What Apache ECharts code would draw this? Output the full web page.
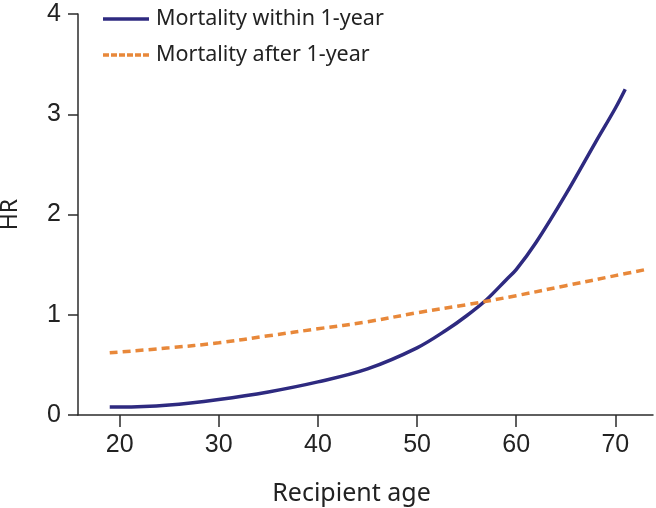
<!DOCTYPE html>
<html>
<head>
<meta charset="utf-8">
<script src="https://cdn.jsdelivr.net/npm/echarts@6/dist/echarts.min.js"></script>
<style>html,body{margin:0;padding:0;background:#fff}#c{width:656px;height:508px}</style>
</head>
<body>
<div id="c"></div>
<script>
var xTicks = [20, 30, 40, 50, 60, 70];
var yTicks = [0, 1, 2, 3, 4];
var withinAges = [19, 20, 25, 30, 35, 40, 45, 50, 53, 55, 57, 59, 60, 62, 65, 68, 70, 71];
var withinHR   = [0.08, 0.08, 0.10, 0.155, 0.23, 0.33, 0.46, 0.67, 0.85, 0.99, 1.15, 1.35, 1.45, 1.72, 2.2, 2.72, 3.06, 3.25];
var afterAges = [19, 25, 30, 35, 40, 45, 50, 55, 60, 65, 70, 73];
var afterHR   = [0.62, 0.67, 0.72, 0.79, 0.86, 0.93, 1.02, 1.10, 1.19, 1.29, 1.39, 1.45];

function pairs(a, b) { return a.map(function (v, i) { return [v, b[i]]; }); }

// legend icon shapes (46x24 box, bar centred vertically)
var solidIcon = 'path://M0,0M0,10.25h46v3.5h-46zM46,24';
var dashIcon = 'path://M0,0M0,10.25h6v3.5h-6zM8,10.25h6v3.5h-6zM16,10.25h6v3.5h-6zM24,10.25h6v3.5h-6zM32,10.25h6v3.5h-6zM40,10.25h6v3.5h-6zM46,24';

var chart = echarts.init(document.getElementById('c'), null, {renderer: 'canvas'});
var axisCol = '#2b2b2b';
chart.setOption({
  animation: false,
  backgroundColor: '#ffffff',
  grid: {left: 78, right: 3, top: 14, bottom: 93, containLabel: false, outerBoundsMode: 'none'},
  legend: {
    orient: 'vertical', left: 98, top: 2,
    itemWidth: 46, itemHeight: 24, itemGap: 12,
    textStyle: {fontFamily: 'Noto Sans', fontSize: 21.5, color: '#222', padding: [0, 0, 0, 2], lineHeight: 24},
    data: [
      {name: 'Mortality within 1-year', icon: solidIcon},
      {name: 'Mortality after 1-year', icon: dashIcon}
    ]
  },
  xAxis: {
    type: 'value', min: 15.8, max: 73.8,
    name: 'Recipient age', nameLocation: 'middle', nameGap: 66, nameMoveOverlap: false,
    nameTextStyle: {fontFamily: 'Noto Sans', fontSize: 25, color: '#222', padding: [0, 28, 0, 0]},
    axisLine: {show: true, onZero: false, lineStyle: {color: axisCol, width: 1.5}},
    axisTick: {show: true, length: 12, lineStyle: {color: axisCol, width: 1.5}, customValues: xTicks},
    axisLabel: {show: true, fontFamily: 'Liberation Sans', fontSize: 25, color: '#222', margin: 18, customValues: xTicks},
    splitLine: {show: false}
  },
  yAxis: {
    type: 'value', min: 0, max: 4, interval: 1,
    name: 'HR', nameLocation: 'middle', nameGap: 56, nameRotate: 90, nameMoveOverlap: false,
    nameTextStyle: {fontFamily: 'Noto Sans', fontSize: 23, color: '#222'},
    axisLine: {show: true, lineStyle: {color: axisCol, width: 1.5}},
    axisTick: {show: true, length: 10, lineStyle: {color: axisCol, width: 1.5}},
    axisLabel: {show: true, fontFamily: 'Liberation Sans', fontSize: 25, color: '#222', margin: 17},
    splitLine: {show: false}
  },
  series: [
    {
      name: 'Mortality within 1-year', type: 'line', smooth: 0.35, showSymbol: false, symbol: 'none',
      lineStyle: {color: '#2E2A80', width: 3.5},
      itemStyle: {color: '#2E2A80'},
      data: pairs(withinAges, withinHR)
    },
    {
      name: 'Mortality after 1-year', type: 'line', smooth: 0.35, showSymbol: false, symbol: 'none',
      lineStyle: {color: '#E8883A', width: 3.5, type: [8, 5]},
      itemStyle: {color: '#E8883A'},
      data: pairs(afterAges, afterHR)
    }
  ]
});
</script>
</body>
</html>
